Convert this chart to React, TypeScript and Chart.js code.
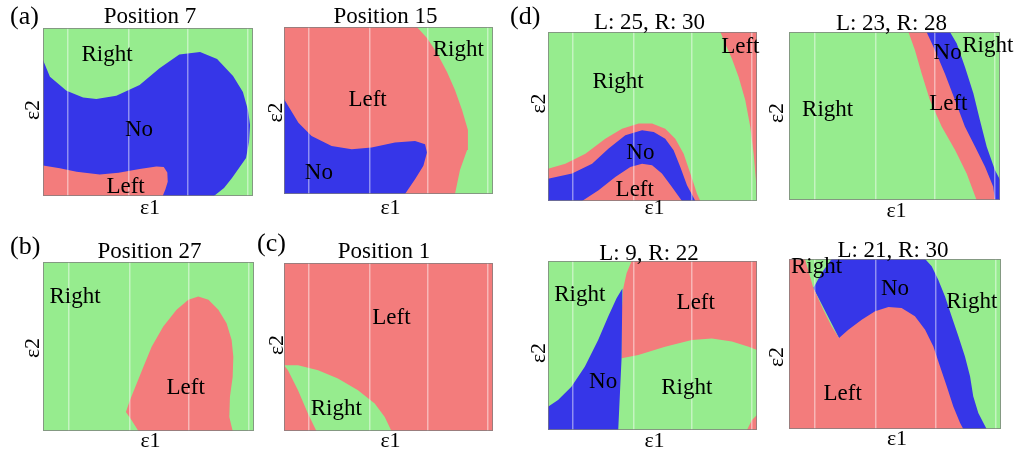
import React, { useEffect, useRef } from "react";
import { Chart, registerables } from "chart.js";

Chart.register(...registerables);

type Pt = [number, number];
type Label = [string, number, number];

// ---------- colours ----------
const GREEN = "rgb(150,236,142)";
const RED = "rgb(243,124,124)";
const BLUE = "rgb(54,54,232)";

// ---------- region boundaries (ε1, ε2 in [0,1]) ----------
const FULL: Pt[] = [[0, 0], [1, 0], [1, 1], [0, 1]];

// (a) Position 7
const P7_NO: Pt[] = [[0, 0.81], [0.033, 0.71], [0.112, 0.627], [0.191, 0.587], [0.254, 0.577], [0.349, 0.597], [0.46, 0.661], [0.555, 0.76], [0.649, 0.843], [0.748, 0.857], [0.829, 0.815], [0.905, 0.714], [0.952, 0.619], [0.976, 0.512], [0.986, 0.423], [0.981, 0.321], [0.967, 0.226], [0.9, 0.107], [0.862, 0.048], [0.814, 0], [0, 0]];
const P7_LEFT: Pt[] = [[0, 0.181], [0.08, 0.165], [0.16, 0.145], [0.27, 0.128], [0.36, 0.138], [0.46, 0.16], [0.54, 0.176], [0.575, 0.172], [0.592, 0.14], [0.594, 0.085], [0.583, 0.04], [0.57, 0], [0, 0]];
const P7_LABELS: Label[] = [["Right", 0.305, 0.839], ["No", 0.457, 0.393], ["Left", 0.393, 0.056]];

// Position 15
const P15_RIGHT: Pt[] = [[0.636, 1], [1, 1], [1, 0], [0.818, 0], [0.842, 0.144], [0.876, 0.263], [0.88, 0.383], [0.852, 0.503], [0.818, 0.623], [0.78, 0.731], [0.732, 0.844], [0.684, 0.934]];
const P15_NO: Pt[] = [[0, 0.569], [0.021, 0.526], [0.069, 0.427], [0.132, 0.347], [0.228, 0.288], [0.324, 0.268], [0.419, 0.278], [0.531, 0.308], [0.627, 0.317], [0.675, 0.298], [0.684, 0.248], [0.667, 0.169], [0.627, 0.089], [0.579, 0], [0, 0]];
const P15_LABELS: Label[] = [["Right", 0.834, 0.863], ["Left", 0.4, 0.565], ["No", 0.167, 0.125]];

// (b) Position 27
const P27_LEFT: Pt[] = [[0.452, 0], [0.42, 0.063], [0.393, 0.113], [0.412, 0.182], [0.444, 0.281], [0.476, 0.38], [0.515, 0.499], [0.57, 0.618], [0.633, 0.717], [0.689, 0.776], [0.736, 0.796], [0.784, 0.776], [0.831, 0.717], [0.87, 0.638], [0.894, 0.539], [0.902, 0.44], [0.899, 0.321], [0.886, 0.202], [0.883, 0.083], [0.899, 0]];
const P27_LABELS: Label[] = [["Right", 0.152, 0.796], ["Left", 0.676, 0.255]];

// (c) Position 1
const P1_RIGHT: Pt[] = [[0, 0.391], [0.067, 0.391], [0.163, 0.361], [0.258, 0.312], [0.354, 0.242], [0.434, 0.163], [0.482, 0.083], [0.514, 0], [0.155, 0], [0.115, 0.103], [0.067, 0.242], [0.019, 0.361]];
const P1_LABELS: Label[] = [["Left", 0.514, 0.675], ["Right", 0.25, 0.133]];

// (d) L: 25, R: 30
const D1_LEFT_TOP: Pt[] = [[0.825, 1], [1, 1], [1, 0], [0.995, 0.122], [0.984, 0.28], [0.968, 0.438], [0.944, 0.596], [0.912, 0.734], [0.88, 0.842], [0.848, 0.931]];
const D1_BAND: Pt[] = [[0, 0.191], [0.083, 0.221], [0.179, 0.28], [0.274, 0.369], [0.354, 0.428], [0.434, 0.458], [0.498, 0.458], [0.561, 0.428], [0.609, 0.369], [0.649, 0.28], [0.681, 0.162], [0.713, 0.043], [0.729, 0], [0, 0]];
const D1_NO: Pt[] = [[0, 0.132], [0.115, 0.162], [0.211, 0.221], [0.29, 0.31], [0.37, 0.389], [0.45, 0.418], [0.506, 0.408], [0.561, 0.369], [0.601, 0.3], [0.633, 0.201], [0.665, 0.093], [0.705, 0], [0, 0]];
const D1_LEFT_BOTTOM: Pt[] = [[0.163, 0], [0.242, 0.063], [0.322, 0.142], [0.394, 0.201], [0.45, 0.221], [0.498, 0.211], [0.545, 0.162], [0.593, 0.083], [0.641, 0]];
const D1_LABELS: Label[] = [["Left", 0.92, 0.911], ["Right", 0.335, 0.704], ["No", 0.442, 0.284], ["Left", 0.415, 0.067]];

// L: 23, R: 28
const D2_LEFT: Pt[] = [[0.566, 1], [1, 1], [1, 0], [0.889, 0], [0.842, 0.158], [0.787, 0.297], [0.724, 0.436], [0.668, 0.594], [0.629, 0.752], [0.597, 0.891]];
const D2_NO: Pt[] = [[0.652, 1], [1, 1], [1, 0], [0.976, 0], [0.968, 0.079], [0.929, 0.198], [0.882, 0.317], [0.834, 0.436], [0.787, 0.594], [0.739, 0.752], [0.692, 0.891]];
const D2_RIGHT: Pt[] = [[0.763, 1], [1, 1], [1, 0.12], [0.976, 0.178], [0.937, 0.317], [0.905, 0.475], [0.874, 0.634], [0.834, 0.792], [0.795, 0.931]];
const D2_LABELS: Label[] = [["Right", 0.183, 0.535], ["No", 0.752, 0.875], ["Right", 0.942, 0.917], ["Left", 0.755, 0.57]];

// L: 9, R: 22
const D3_LEFT: Pt[] = [[0.4, 1], [1, 1], [1, 0.473], [0.96, 0.493], [0.88, 0.523], [0.784, 0.542], [0.688, 0.533], [0.56, 0.493], [0.432, 0.444], [0.352, 0.424], [0.352, 0.69], [0.36, 0.838], [0.376, 0.927]];
const D3_NO: Pt[] = [[0, 0.138], [0.048, 0.178], [0.112, 0.256], [0.176, 0.375], [0.24, 0.533], [0.288, 0.671], [0.328, 0.779], [0.356, 0.838], [0.352, 0.424], [0.336, 0], [0, 0]];
const D3_CORNER: Pt[] = [[0.952, 0], [0.976, 0.059], [1, 0.089], [1, 0]];
const D3_LABELS: Label[] = [["Right", 0.152, 0.799], ["Left", 0.707, 0.75], ["No", 0.264, 0.286], ["Right", 0.664, 0.247]];

// L: 21, R: 30
const D4_NO: Pt[] = [[0.115, 0.829], [0.154, 0.918], [0.201, 1], [0.642, 1], [0.673, 0.957], [0.704, 0.878], [0.736, 0.78], [0.767, 0.663], [0.799, 0.545], [0.83, 0.427], [0.854, 0.31], [0.869, 0.192], [0.893, 0.094], [0.932, 0], [0.5, 0], [0.236, 0.535]];
const D4_LEFT: Pt[] = [[0, 1], [0.075, 1], [0.099, 0.898], [0.115, 0.829], [0.162, 0.702], [0.201, 0.604], [0.236, 0.535], [0.28, 0.584], [0.343, 0.643], [0.406, 0.692], [0.469, 0.718], [0.531, 0.712], [0.594, 0.663], [0.642, 0.584], [0.681, 0.486], [0.712, 0.369], [0.744, 0.251], [0.775, 0.133], [0.807, 0.035], [0.822, 0], [0, 0]];
const D4_LABELS: Label[] = [["Right", 0.13, 0.953], ["No", 0.5, 0.824], ["Right", 0.862, 0.745], ["Left", 0.253, 0.206]];

// faint vertical lines of the sampled grid
const GRID_X = [0.12, 0.41, 0.69, 0.975];

// ---------- layout ----------
interface Layer { pts: Pt[]; color: string }
interface Panel {
  title: string;
  left: number; top: number; w: number; h: number;
  titleDx: number; titleDy: number;
  e1Dy: number; e2Dx: number; e2Dy: number;
  letter?: string; letterDx?: number; letterDy?: number;
  layers: Layer[];
  labels: Label[];
}

const PANELS: Panel[] = [
  { title: "Position 7", left: 43, top: 28, w: 210, h: 168, titleDx: 2, titleDy: 5, e1Dy: 18, e2Dx: 10, e2Dy: -2, letter: "(a)", letterDx: -33, letterDy: -4,
    layers: [{ pts: FULL, color: GREEN }, { pts: P7_NO, color: BLUE }, { pts: P7_LEFT, color: RED }], labels: P7_LABELS },
  { title: "Position 15", left: 284, top: 27, w: 209, h: 167, titleDx: -3, titleDy: 4, e1Dy: 20, e2Dx: 8, e2Dy: 2,
    layers: [{ pts: FULL, color: RED }, { pts: P15_RIGHT, color: GREEN }, { pts: P15_NO, color: BLUE }], labels: P15_LABELS },
  { title: "Position 27", left: 43, top: 262, w: 211, h: 169, titleDx: 1, titleDy: 4, e1Dy: 16, e2Dx: 10, e2Dy: 1.5, letter: "(b)", letterDx: -33, letterDy: -8,
    layers: [{ pts: FULL, color: GREEN }, { pts: P27_LEFT, color: RED }], labels: P27_LABELS },
  { title: "Position 1", left: 284, top: 263, w: 209, h: 168, titleDx: -4.5, titleDy: 5, e1Dy: 16, e2Dx: 7, e2Dy: -2, letter: "(c)", letterDx: -27, letterDy: -12,
    layers: [{ pts: FULL, color: RED }, { pts: P1_RIGHT, color: GREEN }], labels: P1_LABELS },
  { title: "L: 25, R: 30", left: 548, top: 32, w: 209, h: 169, titleDx: -3, titleDy: 3, e1Dy: 13, e2Dx: 9, e2Dy: -13, letter: "(d)", letterDx: -38, letterDy: -8,
    layers: [{ pts: FULL, color: GREEN }, { pts: D1_LEFT_TOP, color: RED }, { pts: D1_BAND, color: RED }, { pts: D1_NO, color: BLUE }, { pts: D1_LEFT_BOTTOM, color: RED }], labels: D1_LABELS },
  { title: "L: 23, R: 28", left: 789, top: 32, w: 211, h: 168, titleDx: -3, titleDy: 2, e1Dy: 17, e2Dx: 12, e2Dy: -3,
    layers: [{ pts: FULL, color: GREEN }, { pts: D2_LEFT, color: RED }, { pts: D2_NO, color: BLUE }, { pts: D2_RIGHT, color: GREEN }], labels: D2_LABELS },
  { title: "L: 9, R: 22", left: 548, top: 261, w: 209, h: 169, titleDx: -3.5, titleDy: 1, e1Dy: 17, e2Dx: 9, e2Dy: 7.5,
    layers: [{ pts: FULL, color: GREEN }, { pts: D3_LEFT, color: RED }, { pts: D3_NO, color: BLUE }, { pts: D3_CORNER, color: RED }], labels: D3_LABELS },
  { title: "L: 21, R: 30", left: 789, top: 259, w: 212, h: 170, titleDx: -2, titleDy: 2, e1Dy: 16, e2Dx: 12, e2Dy: 13,
    layers: [{ pts: FULL, color: GREEN }, { pts: D4_NO, color: BLUE }, { pts: D4_LEFT, color: RED }], labels: D4_LABELS },
];

const PAD_L = 50, PAD_T = 40, PAD_R = 20, PAD_B = 25;
const SERIF = '"Liberation Serif", "Times New Roman", serif';

function textPlugin(p: Panel) {
  return {
    id: "panelText",
    afterDraw(chart: any) {
      const { ctx, chartArea: a, scales } = chart;
      const xs = scales.x, ys = scales.y;
      const cx = (a.left + a.right) / 2;
      const cy = (a.top + a.bottom) / 2;
      ctx.save();
      ctx.strokeStyle = "rgba(125,125,125,0.75)";
      ctx.lineWidth = 1;
      ctx.strokeRect(a.left + 0.5, a.top + 0.5, a.right - a.left - 1, a.bottom - a.top - 1);
      ctx.fillStyle = "#000";
      ctx.textAlign = "center";
      ctx.textBaseline = "alphabetic";
      ctx.font = `23px ${SERIF}`;
      ctx.fillText(p.title, cx + p.titleDx, a.top - p.titleDy);
      ctx.font = `22px ${SERIF}`;
      ctx.fillText("ε1", cx + 2, a.bottom + p.e1Dy);
      ctx.save();
      ctx.translate(a.left - p.e2Dx, cy + p.e2Dy);
      ctx.rotate(-Math.PI / 2);
      ctx.textBaseline = "middle";
      ctx.fillText("ε2", 0, 0);
      ctx.restore();
      if (p.letter) {
        ctx.font = `26px ${SERIF}`;
        ctx.textAlign = "left";
        ctx.fillText(p.letter, a.left + (p.letterDx || 0), a.top + (p.letterDy || 0));
      }
      ctx.font = `23px ${SERIF}`;
      ctx.textAlign = "center";
      ctx.textBaseline = "middle";
      for (const [t, x, y] of p.labels) {
        ctx.fillText(t, xs.getPixelForValue(x), ys.getPixelForValue(y));
      }
      ctx.restore();
    },
  };
}

function PanelChart({ p }: { p: Panel }) {
  const ref = useRef<HTMLCanvasElement>(null);
  const cw = p.w + PAD_L + PAD_R;
  const chh = p.h + PAD_T + PAD_B;
  useEffect(() => {
    if (!ref.current) return;
    const datasets = [...p.layers].reverse().map((l) => ({
      data: l.pts.map(([x, y]) => ({ x, y })),
      backgroundColor: l.color,
      borderColor: "rgba(0,0,0,0)",
      borderWidth: 0,
      pointRadius: 0,
      pointHoverRadius: 0,
      fill: "shape" as any,
      tension: 0,
    }));
    const chart = new Chart(ref.current, {
      type: "line",
      data: { datasets },
      options: {
        animation: false,
        responsive: false,
        maintainAspectRatio: false,
        events: [],
        layout: { padding: { left: PAD_L, top: PAD_T, right: PAD_R, bottom: PAD_B } },
        plugins: { legend: { display: false }, tooltip: { enabled: false }, title: { display: false } },
        scales: {
          x: {
            type: "linear",
            min: 0,
            max: 1,
            display: true,
            ticks: { display: false },
            border: { display: false },
            grid: { drawTicks: false, color: "rgba(255,255,255,0.45)", lineWidth: 1.5, z: 1 } as any,
            afterBuildTicks: (s: any) => {
              s.ticks = GRID_X.map((v) => ({ value: v }));
            },
          },
          y: { type: "linear", min: 0, max: 1, display: false },
        },
      } as any,
      plugins: [textPlugin(p)],
    });
    return () => chart.destroy();
  }, []);
  return (
    <canvas
      ref={ref}
      width={cw}
      height={chh}
      style={{ position: "absolute", left: p.left - PAD_L, top: p.top - PAD_T, width: cw, height: chh }}
    />
  );
}

export default function App() {
  return (
    <div style={{ position: "fixed", left: 0, top: 0, width: 1017, height: 457, background: "#fff", overflow: "hidden" }}>
      {PANELS.map((p, i) => (
        <PanelChart key={i} p={p} />
      ))}
    </div>
  );
}
